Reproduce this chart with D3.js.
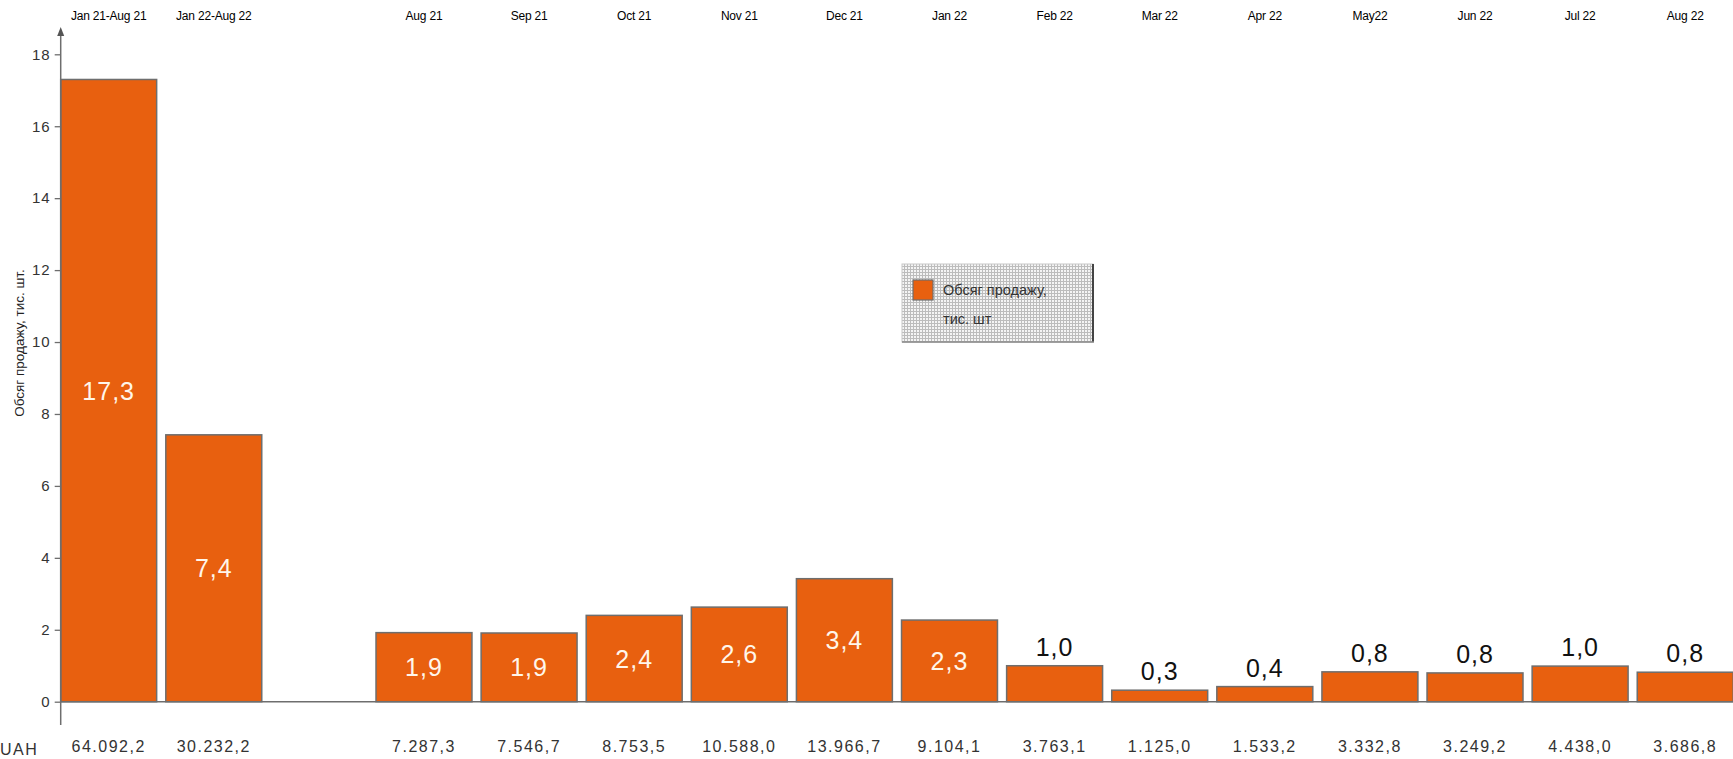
<!DOCTYPE html>
<html>
<head>
<meta charset="utf-8">
<script src="https://cdn.jsdelivr.net/npm/d3@7"></script>
<style>
  html, body { margin: 0; padding: 0; background: #fff; }
  svg { display: block; font-family: "Liberation Sans", Arial, sans-serif; }
</style>
</head>
<body>
<svg id="chart" width="1733" height="759"></svg>
<script>
// ---- data ----
const categories = ["Jan21-Aug21", "Jan22-Aug22", "gap", "Aug21", "Sep21", "Oct21", "Nov21", "Dec21",
                    "Jan22", "Feb22", "Mar22", "Apr22", "May22", "Jun22", "Jul22", "Aug22"];
const topLabels = ["Jan 21-Aug 21", "Jan 22-Aug 22", "", "Aug 21", "Sep 21", "Oct 21", "Nov 21", "Dec 21",
                   "Jan 22", "Feb 22", "Mar 22", "Apr 22", "May22", "Jun 22", "Jul 22", "Aug 22"];
const salesThousands = [17.3, 7.42, null, 1.92, 1.91, 2.4, 2.63, 3.42, 2.27, 1.0, 0.32, 0.42, 0.83, 0.8, 0.99, 0.82];
const uahLabels = ["64.092,2", "30.232,2", "", "7.287,3", "7.546,7", "8.753,5", "10.588,0", "13.966,7",
                   "9.104,1", "3.763,1", "1.125,0", "1.533,2", "3.332,8", "3.249,2", "4.438,0", "3.686,8"];
const yTicks = [0, 2, 4, 6, 8, 10, 12, 14, 16, 18];
const yTitle = "Обсяг продажу, тис. шт.";
const legendLines = ["Обсяг продажу,", "тис. шт"];
const currencyLabel = "UAH";

// ---- layout ----
const svg = d3.select("#chart");
const barColor = "#e8600f";
const strokeColor = "#6e6e6e";

const x = d3.scaleBand().domain(categories).range([60.7, 1733.2]).paddingInner(0.087).paddingOuter(0);
const y = d3.scaleLinear().domain([0, 18]).range([701.7, 54.3]);

const fmt = v => d3.format(".1f")(v).replace(".", ",");

// baseline
svg.append("line")
  .attr("x1", x.range()[0]).attr("x2", 1733)
  .attr("y1", y(0)).attr("y2", y(0))
  .attr("stroke", strokeColor).attr("stroke-width", 1.5);

// bars
const data = categories.map((c, i) => ({ c, v: salesThousands[i], i }));
const bars = data.filter(d => d.v != null);

svg.append("g").selectAll("rect").data(bars).join("rect")
  .attr("x", d => x(d.c))
  .attr("y", d => y(d.v))
  .attr("width", x.bandwidth())
  .attr("height", d => y(0) - y(d.v))
  .attr("fill", barColor)
  .attr("stroke", strokeColor)
  .attr("stroke-width", 1.5);

// value labels
svg.append("g").selectAll("text").data(bars).join("text")
  .attr("x", d => x(d.c) + x.bandwidth() / 2)
  .attr("y", d => d.v > 1.5 ? (y(d.v) + y(0)) / 2 + 9 : y(d.v) - 10)
  .attr("text-anchor", "middle")
  .attr("font-size", 25)
  .attr("letter-spacing", 1)
  .attr("fill", d => d.v > 1.5 ? "#fff6ea" : "#111")
  .text(d => fmt(d.v));

// y axis
const yAxis = d3.axisLeft(y).tickValues(yTicks).tickSize(6).tickPadding(4).tickFormat(d3.format("d"));
const gy = svg.append("g").attr("transform", `translate(${x.range()[0]},0)`).call(yAxis);
gy.select(".domain").remove();
gy.selectAll(".tick line").attr("stroke", strokeColor).attr("stroke-width", 1.3);
gy.selectAll(".tick text").attr("font-size", 15).attr("fill", "#333").attr("letter-spacing", 1)
  .attr("font-family", "'Liberation Sans', Arial, sans-serif");

const ax = x.range()[0];
svg.append("line").attr("x1", ax).attr("x2", ax).attr("y1", 30).attr("y2", 725)
  .attr("stroke", strokeColor).attr("stroke-width", 1.5);
svg.append("path")
  .attr("d", `M${ax},27 L${ax - 3.5},36 L${ax + 3.5},36 Z`)
  .attr("fill", "#555");

// y title
svg.append("text")
  .attr("transform", `translate(24,343) rotate(-90)`)
  .attr("text-anchor", "middle")
  .attr("font-size", 13.5)
  .attr("fill", "#222")
  .text(yTitle);

// top category labels
const topAxis = d3.axisTop(x).tickSize(0).tickPadding(0).tickFormat((d, i) => topLabels[i]);
const gt = svg.append("g").attr("transform", "translate(0,20)").call(topAxis);
gt.select(".domain").remove();
gt.selectAll(".tick text").attr("font-size", 12).attr("fill", "#000")
  .attr("font-family", "'Liberation Sans', Arial, sans-serif").attr("letter-spacing", -0.2);

// bottom UAH labels
const botAxis = d3.axisBottom(x).tickSize(0).tickPadding(0).tickFormat((d, i) => uahLabels[i]);
const gb = svg.append("g").attr("transform", "translate(0,741)").call(botAxis);
gb.select(".domain").remove();
gb.selectAll(".tick text").attr("font-size", 16).attr("fill", "#333").attr("letter-spacing", 1.5)
  .attr("font-family", "'Liberation Sans', Arial, sans-serif");

svg.append("text").attr("x", 0).attr("y", 755).attr("font-size", 16).attr("fill", "#333")
  .attr("letter-spacing", 1.5).text(currencyLabel);

// legend
const defs = svg.append("defs");
const pat = defs.append("pattern").attr("id", "dots").attr("width", 3).attr("height", 3)
  .attr("patternUnits", "userSpaceOnUse");
pat.append("rect").attr("width", 3).attr("height", 3).attr("fill", "#bcbcbc");
pat.append("rect").attr("width", 2).attr("height", 2).attr("fill", "#f4f4f4");

const lg = svg.append("g").attr("transform", "translate(902,264)");
lg.append("rect").attr("width", 191).attr("height", 78).attr("fill", "url(#dots)")
  .attr("stroke", "#c8c8c8").attr("stroke-width", 1);
lg.append("line").attr("x1", 191).attr("x2", 191).attr("y1", 0).attr("y2", 78)
  .attr("stroke", "#444").attr("stroke-width", 2);
lg.append("line").attr("x1", 0).attr("x2", 192).attr("y1", 78).attr("y2", 78)
  .attr("stroke", "#888").attr("stroke-width", 1.5);
lg.append("rect").attr("x", 11).attr("y", 16).attr("width", 20).attr("height", 20)
  .attr("fill", barColor).attr("stroke", strokeColor).attr("stroke-width", 1.2);
lg.selectAll("text.leg").data(legendLines).join("text")
  .attr("class", "leg")
  .attr("x", (d, i) => i === 0 ? 41 : 41)
  .attr("y", (d, i) => 31 + i * 29)
  .attr("font-size", 14.5)
  .attr("fill", "#333")
  .text(d => d);
</script>
</body>
</html>
